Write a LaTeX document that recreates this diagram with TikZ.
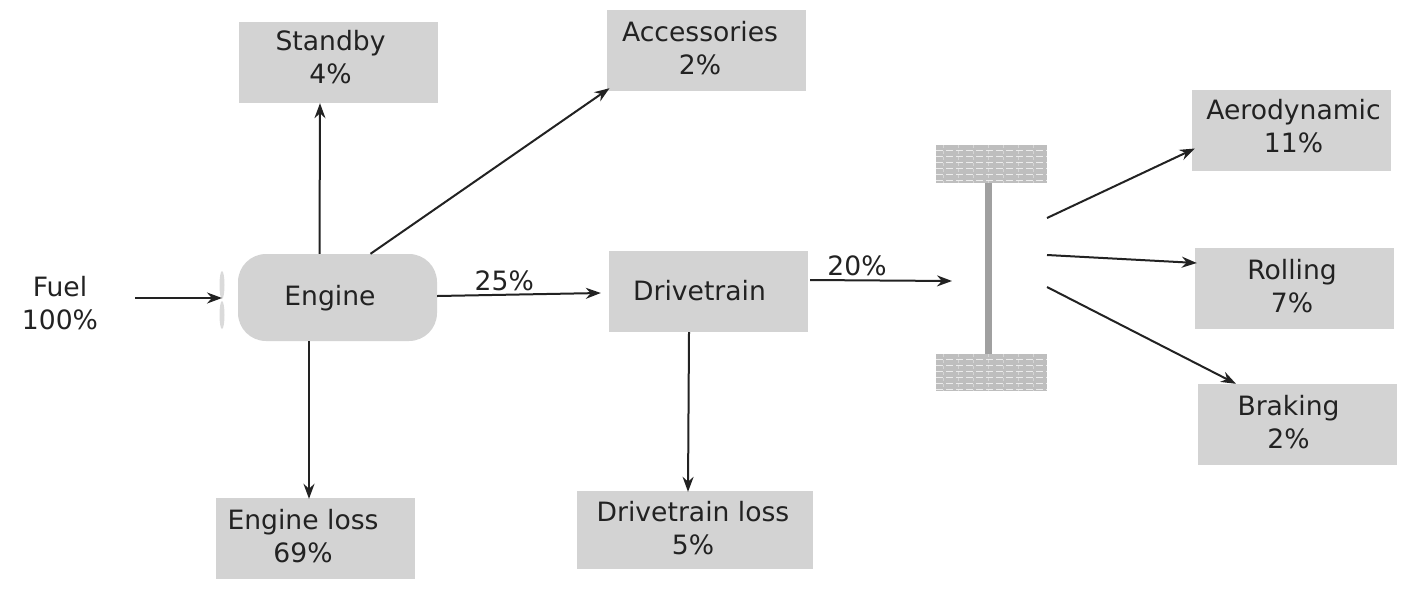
\documentclass[tikz,border=0pt]{standalone}
\usepackage{fontspec}
\setmainfont{DejaVu Sans}
\usetikzlibrary{arrows.meta}
\definecolor{boxgrey}{HTML}{D3D3D3}
\definecolor{ink}{HTML}{222222}
\definecolor{axlegrey}{HTML}{A0A0A0}
\definecolor{tyre}{HTML}{BEBEBE}
\tikzset{
  x=1pt,y=-1pt,
  every node/.style={font=\fontsize{26.6}{33}\selectfont,text=ink},
  box/.style={fill=boxgrey,minimum width=199pt,minimum height=81pt,inner sep=0pt},
  boxtext/.style={align=center,inner sep=0pt},
  flow/.style={draw=ink,line width=2pt,-{Stealth[length=15pt,width=11pt]}},
  valve/.style={fill=boxgrey!85!white,draw=none},
  tyrebox/.style={fill=tyre,minimum width=111pt,inner sep=0pt},
  tread/.style={draw=white!70!tyre,line width=0.9pt,dash pattern=on 7pt off 3pt},
  treadv/.style={draw=white!35!tyre,line width=1pt,dash pattern=on 3pt off 3pt}
}
\begin{document}
\begin{tikzpicture}
\useasboundingbox (0,0) rectangle (1402,590);
% boxes
\node[box,label={[boxtext,shift={(-7.5pt,5pt)}]center:{Standby\\4\%}}] (standby) at (338,62.5) {};
\node[box,label={[boxtext,shift={(-6.5pt,2pt)}]center:{Accessories\\2\%}}] (acc) at (706.5,50.5) {};
\node[box,rounded corners=28pt,minimum height=87pt,label={[boxtext,shift={(-7.5pt,-1pt)}]center:{Engine}}] (engine) at (337.5,297.5) {};
\node[box,label={[boxtext,shift={(-9pt,1pt)}]center:{Drivetrain}}] (drive) at (708.5,291.5) {};
\node[box,label={[boxtext,shift={(-12.5pt,2pt)}]center:{Engine loss\\69\%}}] (eloss) at (315.5,538.5) {};
\node[box,minimum width=236pt,minimum height=78pt,label={[boxtext,shift={(-2pt,2pt)}]center:{Drivetrain loss\\5\%}}] (dloss) at (695,530) {};
\node[box,label={[boxtext,shift={(2pt,4pt)}]center:{Aerodynamic\\11\%}}] (aero) at (1291.5,130.5) {};
\node[box,label={[boxtext,shift={(-2.5pt,2pt)}]center:{Rolling\\7\%}}] (roll) at (1294.5,288.5) {};
\node[box,label={[boxtext,shift={(-9pt,2pt)}]center:{Braking\\2\%}}] (brake) at (1297.5,424.5) {};
\node[boxtext] (fuel) at (60,303.5) {Fuel\\100\%};
% intake valve
\fill[valve] (222,285) ellipse (2.5 and 14);
\fill[valve] (222,315) ellipse (2.5 and 14);
\coordinate (valvepoint) at (222,298);
% wheels and axle
\node[tyrebox,minimum height=38pt] (wheeltop) at (991.5,164) {};
\node[tyrebox,minimum height=37pt] (wheelbot) at (991.5,372.5) {};
\foreach \y in {150,156,162,168,174,180}{\draw[tread] (936,\y) -- (1047,\y);}
\foreach \y in {359,365,371,377,383,389}{\draw[tread] (936,\y) -- (1047,\y);}
\foreach \x in {943,958,973,988,1003,1018,1033}{
  \draw[treadv] (\x,145) -- (\x,183);
  \draw[treadv] (\x,354) -- (\x,391);
}
\fill[axlegrey] (984.5,183) rectangle (991.5,354);
\coordinate (axlein) at (952,281);
\coordinate (axleA) at (1047,218);
\coordinate (axleB) at (1047,255);
\coordinate (axleC) at (1047,287);
% connectors
\draw[flow] ([xshift=37pt]fuel.east |- valvepoint) -- (valvepoint);
\draw[flow] ([xshift=-18pt]engine.north) -- ([xshift=-18pt]standby.south);
\draw[flow] ([xshift=33pt]engine.north) -- ([xshift=-97pt,yshift=3pt]acc.south);
\draw[flow] ([yshift=1.5pt]engine.east) -- node[above=1pt,pos=.41,inner sep=2pt] (lab25) {25\%} ([xshift=-8pt,yshift=-1.5pt]drive.west);
\draw[flow] ([xshift=2pt,yshift=11.5pt]drive.east) -- node[above=1pt,pos=.33,inner sep=2pt] (lab20) {20\%} (axlein);
\draw[flow] ([xshift=-28.5pt]engine.south) -- ([xshift=-6.5pt,yshift=-1pt]eloss.north);
\draw[flow] ([xshift=-19.5pt]drive.south) -- ([xshift=-7pt,yshift=-1pt]dloss.north);
\draw[flow] (axleA) -- ([xshift=3pt,yshift=-18pt]aero.west);
\draw[flow] (axleB) -- ([xshift=2pt,yshift=25.5pt]roll.west);
\draw[flow] (axleC) -- ([xshift=-61.5pt]brake.north);
\end{tikzpicture}
\end{document}
